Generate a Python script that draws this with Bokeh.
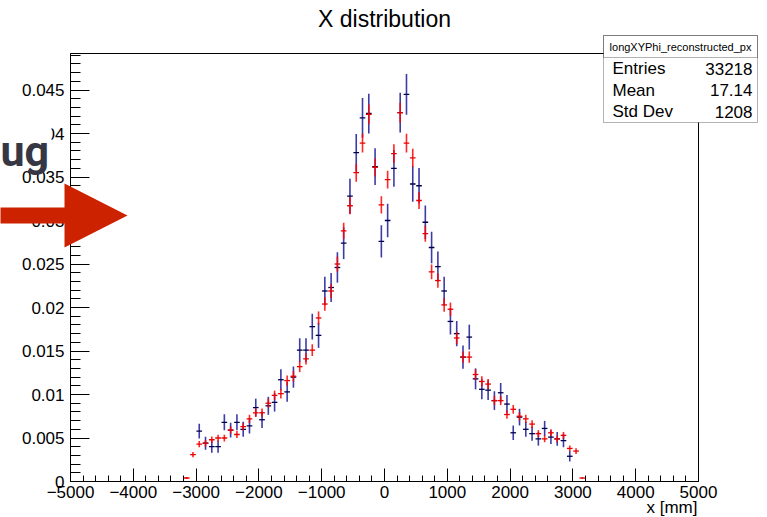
import math
from bokeh.plotting import figure
from bokeh.models import (Range1d, SingleIntervalTicker, CustomJSTickFormatter,
                          Label, PolyAnnotation, BoxAnnotation, ColumnDataSource)
from bokeh.embed import file_html
from bokeh.resources import INLINE

# ---------------- data ----------------
bin_centers = [-3150, -3050, -2950, -2850, -2750, -2650, -2550, -2450, -2350, -2250,
               -2150, -2050, -1950, -1850, -1750, -1650, -1550, -1450, -1350, -1250,
               -1150, -1050, -950, -850, -750, -650, -550, -450, -350, -250,
               -150, -50, 50, 150, 250, 350, 450, 550, 650, 750,
               850, 950, 1050, 1150, 1250, 1350, 1450, 1550, 1650, 1750,
               1850, 1950, 2050, 2150, 2250, 2350, 2450, 2550, 2650, 2750,
               2850, 2950, 3050, 3150]

blue_values = [None, None, 0.0058, 0.0044, 0.0040, 0.0040, 0.0068, 0.0059, 0.0068, 0.0060,
               0.0064, 0.0085, 0.0071, 0.0087, 0.0091, 0.0117, 0.0103, 0.0120, 0.0151, 0.0151,
               0.0178, 0.0168, 0.0219, 0.0223, 0.0246, 0.0274, 0.0328, 0.0378, 0.0418, 0.0423,
               0.0362, 0.0276, 0.0300, 0.0360, 0.0424, 0.0445, 0.0342, 0.0340, 0.0298, 0.0269,
               0.0247, 0.0219, 0.0184, 0.0170, 0.0143, 0.0166, 0.0118, 0.0106, 0.0105, 0.0093,
               0.0102, 0.0089, 0.0056, 0.0074, 0.0060, 0.0055, 0.0049, 0.0061, 0.0051, 0.0049,
               0.0047, 0.0029, None, None]

red_values = [0.0004, 0.0031, 0.0043, 0.0044, 0.0048, 0.0050, 0.0050, 0.0059, 0.0054, 0.0063,
              0.0072, 0.0079, 0.0079, 0.0090, 0.0099, 0.0101, 0.0116, 0.0121, 0.0132, 0.0141,
              0.0151, 0.0188, 0.0204, 0.0219, 0.0250, 0.0288, 0.0317, 0.0355, 0.0389, 0.0422,
              0.0361, 0.0318, 0.0347, 0.0377, 0.0424, 0.0389, 0.0372, 0.0323, 0.0285, 0.0241,
              0.0231, 0.0203, 0.0198, 0.0165, 0.0143, 0.0143, 0.0123, 0.0115, 0.0112, 0.0093,
              0.0093, 0.0077, 0.0083, 0.0075, 0.0072, 0.0066, 0.0055, 0.0049, 0.0056, 0.0049,
              0.0053, 0.0038, 0.0035, 0.0004]

# entries used for the Poisson error bars (red = stats box entries, blue estimated)
red_entries = 33218
blue_entries = 8100
bin_half_width = 45

title_text = "X distribution"
x_label = "x [mm]"
stats_name = "longXYPhi_reconstructed_px"
stats_rows = [("Entries", "33218"), ("Mean", "17.14"), ("Std Dev", "1208")]

# ---------------- layout ----------------
W, H = 767, 517
FL, FR, FT, FB = 70, 69, 53, 36          # ROOT frame position inside the canvas
X0, X1 = -5000, 5000
Y0, Y1 = 0.0, 0.0492
FONT = "Liberation Sans"


def xd(px):
    return X0 + (px - FL) * (X1 - X0) / (W - FL - FR)


def yd(py):
    return Y1 - (py - FT) * (Y1 - Y0) / (H - FT - FB)


def err_source(values, entries):
    xs, ys, lo, hi, xl, xr = [], [], [], [], [], []
    for c, v in zip(bin_centers, values):
        if v is None:
            continue
        e = math.sqrt(v / entries)
        xs.append(c); ys.append(v); lo.append(v - e); hi.append(v + e)
        xl.append(c - bin_half_width); xr.append(c + bin_half_width)
    return ColumnDataSource(dict(x=xs, y=ys, lo=lo, hi=hi, xl=xl, xr=xr))


# the plotting frame covers the whole canvas; the axes are pinned at the ROOT frame edges
p = figure(width=W, height=H, title=None,
           x_range=Range1d(xd(0), xd(W)), y_range=Range1d(yd(H), yd(0)),
           output_backend="svg", toolbar_location=None,
           min_border_left=0, min_border_right=0, min_border_top=0, min_border_bottom=0)
p.background_fill_color = "white"
p.border_fill_color = "white"
p.outline_line_color = None
p.xgrid.visible = False
p.ygrid.visible = False

for ax in (p.xaxis[0], p.yaxis[0]):
    ax.axis_line_color = "black"
    ax.major_tick_line_color = "black"
    ax.minor_tick_line_color = "black"
    ax.major_tick_out = 0
    ax.minor_tick_out = 0
    ax.major_label_text_font = FONT
    ax.major_label_text_font_size = "17px"
    ax.major_label_text_color = "black"

p.xaxis.fixed_location = Y0
p.xaxis.bounds = (X0, X1)
p.xaxis.ticker = SingleIntervalTicker(interval=1000, num_minor_ticks=5)
p.xaxis.major_tick_in = 13
p.xaxis.minor_tick_in = 6
p.xaxis.major_label_standoff = 4
p.xaxis.formatter = CustomJSTickFormatter(
    code="return tick < 0 ? '\u2212' + Math.abs(tick) : String(tick);")

p.yaxis.fixed_location = X0
p.yaxis.bounds = (Y0, Y1)
p.yaxis.ticker = SingleIntervalTicker(interval=0.005, num_minor_ticks=5)
p.yaxis.major_tick_in = 19
p.yaxis.minor_tick_in = 10
p.yaxis.major_label_standoff = 6
p.yaxis.formatter = CustomJSTickFormatter(
    code="return parseFloat(tick.toPrecision(6)).toString();")

# ROOT frame box
p.add_layout(BoxAnnotation(left=X0, right=X1, bottom=Y0, top=Y1, fill_alpha=0,
                           line_color="black", line_width=1, line_alpha=1))

# ---------------- histograms with error bars ----------------
bsrc = err_source(blue_values, blue_entries)
rsrc = err_source(red_values, red_entries)

p.segment(x0="x", y0="lo", x1="x", y1="hi", source=bsrc, line_color="#1a1a96",
          line_width=1.6, line_alpha=0.85)
p.segment(x0="xl", y0="y", x1="xr", y1="y", source=bsrc, line_color="#00004e", line_width=1.3)

p.segment(x0="x", y0="lo", x1="x", y1="hi", source=rsrc, line_color="#ff0000",
          line_width=1.6, line_alpha=0.85)
p.segment(x0="xl", y0="y", x1="xr", y1="y", source=rsrc, line_color="#e80000", line_width=1.3)

# ---------------- stats box ----------------
bx0, bx1, by0, by1, byh = 603, 757, 35, 122, 57
p.add_layout(PolyAnnotation(xs=[xd(bx0), xd(bx1), xd(bx1), xd(bx0)],
                            ys=[yd(by0), yd(by0), yd(by1), yd(by1)],
                            fill_color="white", fill_alpha=1,
                            line_color="black", line_width=1))
p.add_layout(PolyAnnotation(xs=[xd(bx0), xd(bx1), xd(bx1), xd(bx0)],
                            ys=[yd(by0), yd(by0), yd(byh), yd(byh)],
                            fill_alpha=0, line_color="black", line_width=1))
p.add_layout(Label(x=xd((bx0 + bx1) / 2), y=yd(46.5), text=stats_name,
                   text_align="center", text_baseline="middle", text_font=FONT,
                   text_font_size="11px", text_color="black"))
for i, (k, v) in enumerate(stats_rows):
    yy = [68, 89.5, 111][i]
    p.add_layout(Label(x=xd(612), y=yd(yy), text=k, text_align="left",
                       text_baseline="middle", text_font=FONT, text_font_size="17px",
                       text_color="black"))
    p.add_layout(Label(x=xd(752), y=yd(yy), text=v, text_align="right",
                       text_baseline="middle", text_font=FONT, text_font_size="17px",
                       text_color="black"))

# ---------------- title and x label ----------------
p.add_layout(Label(x=xd(384), y=yd(18), text=title_text, text_align="center",
                   text_baseline="middle", text_font=FONT, text_font_size="23px",
                   text_color="black"))
p.add_layout(Label(x=xd(697), y=yd(507), text=x_label, text_align="right",
                   text_baseline="middle", text_font=FONT, text_font_size="17px",
                   text_color="black"))

# ---------------- overlay (slide remnants) ----------------
p.add_layout(PolyAnnotation(xs=[xd(-5), xd(51), xd(51), xd(-5)],
                            ys=[yd(112), yd(112), yd(163), yd(163)],
                            fill_color="white", fill_alpha=1, line_alpha=0))
p.add_layout(Label(x=xd(0), y=yd(150), text="ug", text_align="left",
                   text_baseline="alphabetic", text_font="Roboto", text_font_size="43px",
                   text_font_style="bold", text_color="#363744"))
ax_px = [-5, 64, 64, 127, 64, 64, -5]
ay_px = [207, 207, 183, 215, 247, 223, 223]
p.add_layout(PolyAnnotation(xs=[xd(v) for v in ax_px], ys=[yd(v) for v in ay_px],
                            fill_color="#cc2200", fill_alpha=1, line_alpha=0))

open("out.html", "w").write(file_html(p, INLINE))
